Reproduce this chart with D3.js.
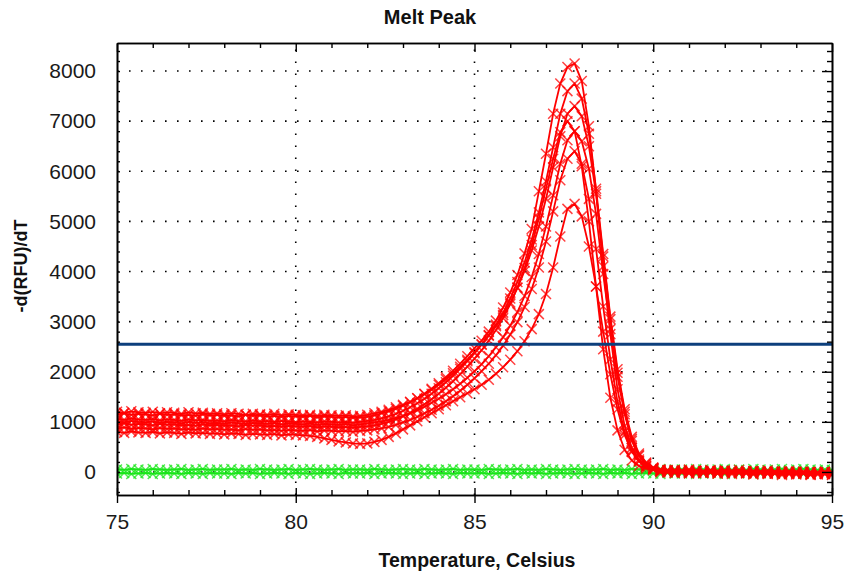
<!DOCTYPE html>
<html>
<head>
<meta charset="utf-8">
<script src="https://cdnjs.cloudflare.com/ajax/libs/d3/7.8.5/d3.min.js"></script>
<style>
  body { margin: 0; background: #fff; }
  svg { display: block; font-family: "Liberation Sans", Arial, sans-serif; }
</style>
</head>
<body>
<svg id="chart" width="845" height="572"></svg>
<script>
// ----- data ----- //

const temps = [
  75,75.2,75.4,75.6,75.8,76,76.2,76.4,76.6,76.8,
  77,77.2,77.4,77.6,77.8,78,78.2,78.4,78.6,78.8,
  79,79.2,79.4,79.6,79.8,80,80.2,80.4,80.6,80.8,
  81,81.2,81.4,81.6,81.8,82,82.2,82.4,82.6,82.8,
  83,83.2,83.4,83.6,83.8,84,84.2,84.4,84.6,84.8,
  85,85.2,85.4,85.6,85.8,86,86.2,86.4,86.6,86.8,
  87,87.2,87.4,87.6,87.8,88,88.2,88.4,88.6,88.8,
  89,89.2,89.4,89.6,89.8,90,90.2,90.4,90.6,90.8,
  91,91.2,91.4,91.6,91.8,92,92.2,92.4,92.6,92.8,
  93,93.2,93.4,93.6,93.8,94,94.2,94.4,94.6,94.8,
  95
];

// red wells (melt curves)
const red1 = [
  1150,1170,1140,1160,1150,1130,1160,1140,1150,1130,1140,1120,1150,1130,1140,1120,1130,1110,1140,1120,
  1130,1110,1120,1100,1120,1110,1100,1120,1090,1110,1100,1090,1100,1080,1090,
  1100,1130,1170,1210,1260,1320,1390,1470,1560,1660,1770,1890,2020,2160,2310,2470,2620,2800,3020,3280,
  3580,3930,4360,4850,5600,6350,7150,7750,8080,8150,7800,6900,5600,4100,2750,1650,920,480,250,130,70,
  40,20,30,10,30,20,0,20,10,30,10,-10,20,0,10,-10,10,0,-20,10,-10,0,-20,0,-10
];
const red2 = [
  1060,1040,1070,1050,1040,1060,1030,1050,1040,1020,1050,1030,1040,1020,1030,1010,1040,1020,1010,1030,
  1010,1020,1000,1020,1010,990,1010,1000,990,1010,1000,990,1000,980,1000,
  1020,1040,1070,1110,1160,1220,1290,1370,1460,1560,1670,1790,1920,2060,2210,2370,2540,2730,2940,3180,
  3460,3790,4180,4640,5180,5800,6480,7150,7600,7750,7450,6750,5650,4350,3100,2050,1250,700,370,190,90,
  30,10,-10,20,0,10,-20,10,0,-10,20,-10,0,-20,10,-10,0,-30,0,-10,-20,0,-30,-10,-20
];
const red3 = [
  1200,1180,1210,1190,1180,1200,1170,1190,1180,1160,1190,1170,1180,1160,1170,1150,1170,1160,1140,1160,
  1150,1140,1160,1130,1150,1140,1130,1140,1120,1140,1130,1120,1130,1110,1120,
  1140,1170,1200,1240,1290,1340,1400,1470,1550,1640,1740,1850,1970,2100,2240,2390,2550,2720,2910,3130,
  3380,3670,4010,4420,4900,5450,6080,6700,7150,7300,7100,6500,5550,4300,3050,1980,1200,660,340,170,80,
  20,40,10,30,0,20,10,-10,20,0,10,-10,0,10,-20,0,-10,10,-20,0,-10,-30,0,-20,-10
];
const red4 = [
  950,970,940,960,950,930,960,940,950,930,940,920,950,930,940,920,930,910,940,920,
  930,910,920,900,920,910,900,920,890,910,900,890,900,880,900,
  910,930,960,1000,1050,1110,1180,1260,1350,1450,1560,1680,1810,1950,2100,2260,2430,2620,2830,3070,
  3350,3680,4070,4530,5060,5650,6250,6780,7000,6800,6100,5000,3700,2450,1480,830,440,230,120,70,40,
  10,-10,20,0,-20,10,-10,0,-30,-10,0,-20,-10,-30,0,-20,-30,-10,-40,-20,-30,-50,-20,-40,-30
];
const red5 = [
  1010,990,1020,1000,990,1010,980,1000,990,970,1000,980,990,970,980,960,990,970,960,980,
  970,960,980,950,970,960,950,970,940,960,950,940,960,930,950,
  970,990,1010,1040,1080,1120,1170,1230,1300,1380,1460,1550,1650,1760,1880,2010,2150,2310,2490,2690,
  2920,3190,3510,3890,4350,4900,5520,6150,6620,6800,6600,6050,5150,3950,2850,1900,1150,620,320,160,80,
  50,30,40,20,50,30,20,40,10,30,20,40,10,20,0,30,10,0,20,-10,10,0,-10,10,-10
];
const red6 = [
  870,890,860,880,870,850,880,860,870,850,860,840,870,850,860,840,850,830,860,840,
  850,830,840,820,840,830,820,840,810,830,820,810,820,800,820,
  830,850,870,900,940,990,1040,1100,1170,1240,1320,1410,1510,1620,1740,1870,2010,2160,2330,2520,
  2740,2990,3290,3650,4080,4600,5200,5820,6250,6400,6150,5450,4450,3300,2250,1400,800,420,220,110,60,
  -10,10,-20,0,-30,-10,-20,0,-30,-20,-40,-10,-30,-50,-20,-40,-30,-60,-40,-50,-30,-60,-50,-40,-60
];
const red7 = [
  800,780,810,790,780,800,770,790,780,760,790,770,780,760,770,750,770,760,740,760,
  750,740,760,730,750,740,730,720,700,670,640,610,590,570,560,
  570,600,640,700,770,850,930,1010,1090,1170,1250,1330,1410,1490,1570,1650,1740,1840,1960,2090,
  2240,2410,2610,2850,3150,3550,4080,4700,5250,5350,5100,4500,3700,2800,1950,1250,740,400,210,110,60,
  30,0,20,-10,10,-20,0,10,-10,20,-10,0,-20,10,-10,-30,0,-20,-10,-30,-10,-40,-20,-30,-50
];

// green wells (no product)
const green1 = [
  50,40,60,50,40,60,50,40,50,60,40,50,60,40,50,50,60,40,50,40,
  60,50,40,50,60,40,50,60,50,40,50,60,40,50,50,40,60,50,40,50,
  60,50,40,60,50,40,50,60,40,50,50,40,60,50,40,50,60,40,50,40,
  60,50,40,50,60,50,40,50,60,40,50,40,60,50,40,50,60,40,50,50,
  40,60,50,40,50,60,40,50,40,60,50,40,50,60,40,50,60,50,40,50,
  40
];
const green2 = [
  -30,-20,-40,-30,-20,-40,-30,-20,-30,-40,-20,-30,-40,-20,-30,-30,-40,-20,-30,-20,
  -40,-30,-20,-30,-40,-20,-30,-40,-30,-20,-30,-40,-20,-30,-30,-20,-40,-30,-20,-30,
  -40,-30,-20,-40,-30,-20,-30,-40,-20,-30,-30,-20,-40,-30,-20,-30,-40,-20,-30,-20,
  -40,-30,-20,-30,-40,-30,-20,-30,-40,-20,-30,-20,-40,-30,-20,-30,-40,-20,-30,-30,
  -20,-40,-30,-20,-30,-40,-20,-30,-20,-40,-30,-20,-30,-40,-20,-30,-40,-30,-20,-30,
  -20
];

const redSeries = [red1, red2, red3, red4, red5, red6, red7];
const greenSeries = [green1, green2];
const threshold = 2550;

const xMajor = [75, 80, 85, 90, 95];
const xMinor = [76, 77, 78, 79, 81, 82, 83, 84, 86, 87, 88, 89, 91, 92, 93, 94];
const yMajor = [0, 1000, 2000, 3000, 4000, 5000, 6000, 7000, 8000];
const yMinor = [-400, -200, 200, 400, 600, 800, 1200, 1400, 1600, 1800, 2200, 2400, 2600, 2800,
  3200, 3400, 3600, 3800, 4200, 4400, 4600, 4800, 5200, 5400, 5600, 5800, 6200, 6400, 6600, 6800,
  7200, 7400, 7600, 7800, 8200, 8400];
const xGrid = [80, 85, 90];
const yGrid = [0, 1000, 2000, 3000, 4000, 5000, 6000, 7000, 8000];

// ----- layout ----- //

const margin = {top: 43, right: 13, bottom: 77, left: 117};
const W = 845, H = 572;
const width = W - margin.left - margin.right;
const height = H - margin.top - margin.bottom;

const svg = d3.select('#chart');
svg.append('rect').attr('width', W).attr('height', H).attr('fill', '#fff');

const x = d3.scaleLinear().domain([75, 95]).range([0, width]);
const y = d3.scaleLinear().domain([-460, 8560]).range([height, 0]);

const g = svg.append('g').attr('transform', `translate(${margin.left},${margin.top})`);

svg.append('defs').append('clipPath').attr('id', 'plotClip')
   .append('rect').attr('width', width).attr('height', height);

// dotted grid
const grid = g.append('g').attr('stroke', '#000').attr('stroke-width', 1.6)
              .attr('stroke-dasharray', '1.6 10.4');
grid.selectAll('.hg').data(yGrid).enter().append('line')
    .attr('x1', 0).attr('x2', width)
    .attr('y1', d => y(d)).attr('y2', d => y(d));
grid.selectAll('.vg').data(xGrid).enter().append('line')
    .attr('y1', height).attr('y2', 0)
    .attr('x1', d => x(d)).attr('x2', d => x(d));

// series
const plot = g.append('g').attr('clip-path', 'url(#plotClip)');
const line = d3.line().x((d, i) => x(temps[i])).y(d => y(d));
const cross = 'M-5,-5L5,5M-5,5L5,-5';

function drawSeries(values, color) {
  const s = plot.append('g');
  s.append('path').datum(values)
   .attr('d', line).attr('fill', 'none')
   .attr('stroke', color).attr('stroke-width', 1.8);
  s.selectAll('path.mk').data(values).enter().append('path')
   .attr('class', 'mk')
   .attr('d', cross)
   .attr('transform', (d, i) => `translate(${x(temps[i])},${y(d)})`)
   .attr('stroke', color).attr('stroke-width', 1.5).attr('fill', 'none')
   .attr('stroke-opacity', 0.75);
}

greenSeries.forEach(v => drawSeries(v, '#19e619'));
redSeries.forEach(v => drawSeries(v, '#ff0000'));

// threshold line
plot.append('line')
    .attr('x1', 0).attr('x2', width)
    .attr('y1', y(threshold)).attr('y2', y(threshold))
    .attr('stroke', '#0d3f7c').attr('stroke-width', 3);

// ----- axes ----- //

const tickFont = (sel) => sel.selectAll('text')
  .style('font-size', '21px').style('font-family', '"Liberation Sans", Arial, sans-serif')
  .attr('fill', '#1a1a1a');
const fmt = d3.format('d');

// left
const gLeft = g.append('g')
   .call(d3.axisLeft(y).tickValues(yMajor).tickFormat(fmt).tickSize(10).tickSizeOuter(0).tickPadding(11));
gLeft.selectAll('.tick line').attr('x2', 3);
tickFont(gLeft);
const gLeftMinor = g.append('g')
   .call(d3.axisLeft(y).tickValues(yMinor).tickSize(5).tickSizeOuter(0).tickFormat(''));
gLeftMinor.selectAll('.tick line').attr('x2', 3);

// bottom
const gBottom = g.append('g').attr('transform', `translate(0,${height})`)
   .call(d3.axisBottom(x).tickValues(xMajor).tickFormat(fmt).tickSize(8).tickSizeOuter(0).tickPadding(11));
gBottom.selectAll('.tick line').attr('y1', -7);
tickFont(gBottom);
g.append('g').attr('transform', `translate(0,${height})`)
   .call(d3.axisBottom(x).tickValues(xMinor).tickSize(-5).tickSizeOuter(0).tickFormat(''));

// top
g.append('g')
   .call(d3.axisTop(x).tickValues(xMajor).tickSize(-9).tickSizeOuter(0).tickFormat(''));
g.append('g')
   .call(d3.axisTop(x).tickValues(xMinor).tickSize(-5).tickSizeOuter(0).tickFormat(''));

// right
g.append('g').attr('transform', `translate(${width},0)`)
   .call(d3.axisRight(y).tickValues(yMajor).tickSize(-10).tickSizeOuter(0).tickFormat(''));
g.append('g').attr('transform', `translate(${width},0)`)
   .call(d3.axisRight(y).tickValues(yMinor).tickSize(-5).tickSizeOuter(0).tickFormat(''));

g.selectAll('.domain').attr('stroke', '#000').attr('stroke-width', 1.6);
g.selectAll('.tick line').attr('stroke', '#000').attr('stroke-width', 1.4);

// ----- titles ----- //

svg.append('text')
   .attr('x', 430).attr('y', 24)
   .attr('text-anchor', 'middle')
   .style('font-weight', 'bold').style('font-size', '20px')
   .attr('fill', '#111')
   .text('Melt Peak');

svg.append('text')
   .attr('x', 477).attr('y', 567)
   .attr('text-anchor', 'middle')
   .style('font-weight', 'bold').style('font-size', '19.5px')
   .attr('fill', '#111')
   .text('Temperature, Celsius');

svg.append('text')
   .attr('transform', 'translate(27,266) rotate(-90)')
   .attr('text-anchor', 'middle')
   .style('font-weight', 'bold').style('font-size', '18px')
   .attr('fill', '#111')
   .text('-d(RFU)/dT');
</script>
</body>
</html>
